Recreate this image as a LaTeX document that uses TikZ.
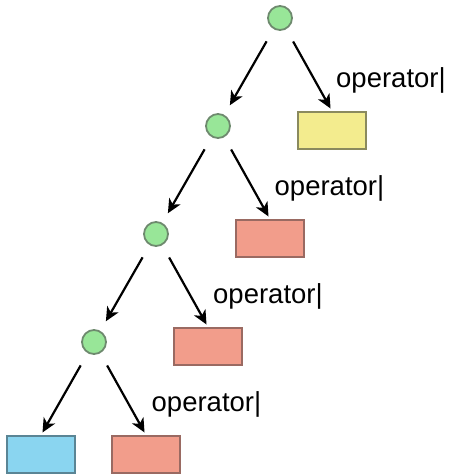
\documentclass[tikz,border=0pt]{standalone}
\usepackage{fontspec}
\setmainfont{Liberation Sans}
\usetikzlibrary{arrows.meta}
\definecolor{gfill}{HTML}{98E698}
\definecolor{gline}{HTML}{6E8A6E}
\definecolor{yfill}{HTML}{F3EC8E}
\definecolor{yline}{HTML}{8A8A5E}
\definecolor{rfill}{HTML}{F29D8B}
\definecolor{rline}{HTML}{9A6A62}
\definecolor{bfill}{HTML}{8AD5F0}
\definecolor{bline}{HTML}{5A8595}
\begin{document}
\begin{tikzpicture}[x=1pt,y=1pt,
  opnode/.style={circle,draw=gline,fill=gfill,line width=1.8pt,minimum size=24pt,inner sep=0pt},
  leaf/.style={draw=#1line,fill=#1fill,line width=1.8pt,minimum width=68pt,minimum height=37pt,inner sep=0pt},
  arr/.style={line width=2.2pt,-{Stealth[length=14pt,width=13pt,inset=4pt]}},
  lbl/.style={anchor=base west,inner sep=0pt,font=\fontsize{27.5}{30}\selectfont}
]
\useasboundingbox (0,0) rectangle (451,-474);
\node[opnode] (c1) at (280,-18) {};
\node[opnode] (c2) at (218,-126) {};
\node[opnode] (c3) at (156,-234) {};
\node[opnode] (c4) at (94,-342) {};
\node[leaf=y] (b1) at (332,-130.5) {};
\node[leaf=r] (b2) at (270,-238.5) {};
\node[leaf=r] (b3) at (208,-346.5) {};
\node[leaf=r] (b4) at (146,-454.5) {};
\node[leaf=b] (b5) at (41,-454.5) {};
\node[lbl] (t1) at (336,-87) {operator|};
\node[lbl] (t2) at (274.5,-195) {operator|};
\node[lbl] (t3) at (213,-303) {operator|};
\node[lbl] (t4) at (151.5,-411) {operator|};
\draw[arr,shorten <=14pt,shorten >=11pt] (c1) -- (c2);
\draw[arr,shorten <=14pt,shorten >=11pt] (c2) -- (c3);
\draw[arr,shorten <=14pt,shorten >=11pt] (c3) -- (c4);
\draw[arr,shorten <=14pt,shorten >=3pt] (c1) -- (b1.north);
\draw[arr,shorten <=14pt,shorten >=3pt] (c2) -- (b2.north);
\draw[arr,shorten <=14pt,shorten >=3pt] (c3) -- (b3.north);
\draw[arr,shorten <=14pt,shorten >=3pt] (c4) -- (b4.north);
\draw[arr,shorten <=14pt,shorten >=3pt] (c4) -- (b5.north);
\end{tikzpicture}
\end{document}
